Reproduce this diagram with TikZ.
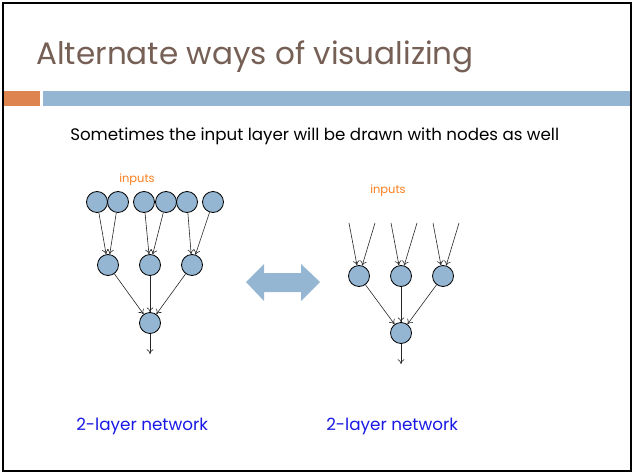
\documentclass[tikz,border=0pt]{standalone}
\usepackage{fontspec}
\setmainfont{Poppins}
\usetikzlibrary{arrows.meta}
\definecolor{titleBrown}{RGB}{118,96,86}
\definecolor{barOrange}{RGB}{222,132,78}
\definecolor{barBlue}{RGB}{148,182,210}
\definecolor{nodeBlue}{RGB}{148,182,210}
\definecolor{inputOrange}{RGB}{250,125,30}
\definecolor{labelBlue}{RGB}{25,25,230}

\begin{document}
\begin{tikzpicture}[>={To[length=3.5pt,width=5pt]}, x=0.75pt, y=-0.75pt,
    neuron/.style={circle,inner sep=0pt,minimum size=15.75pt,draw=black,line width=0.6pt,fill=nodeBlue},
    connection/.style={draw=black!85,line width=0.45pt,->},
    inputText/.style={text=inputOrange,font=\fontsize{8.6}{10}\selectfont},
    netLabel/.style={text=labelBlue,font=\fontsize{12.6}{15}\selectfont,anchor=base west,inner sep=0pt},
]

	\useasboundingbox (0,0) rectangle (634,474);
	\draw[line width=2pt] (3,3) rectangle (631,471);

	\node[anchor=base west,inner sep=0pt,text=titleBrown,font=\fontsize{23.3}{27}\selectfont](title) at(36,65){Alternate ways of visualizing};
	\fill[barOrange] (4,91) rectangle (40,106);
	\fill[barBlue] (43,91) rectangle (630,106);
	\node[anchor=base west,inner sep=0pt,font=\fontsize{12.5}{15}\selectfont](sub) at(70,141){Sometimes the input layer will be drawn with nodes as well};

	% left network
	\node[inputText](inL) at(137,180){inputs};
	\node[neuron](a1) at(97,202){};
	\node[neuron](a2) at(118,202){};
	\node[neuron](a3) at(144,202){};
	\node[neuron](a4) at(166,202){};
	\node[neuron](a5) at(187,202){};
	\node[neuron](a6) at(213,202){};
	\node[neuron](b1) at(108,265){};
	\node[neuron](b2) at(150,265){};
	\node[neuron](b3) at(192,265){};
	\node[neuron](c1) at(150,323){};
	\coordinate (outL) at(150,354);

	\draw[connection](a1)--(b1);
	\draw[connection](a2)--(b1);
	\draw[connection](a3)--(b2);
	\draw[connection](a4)--(b2);
	\draw[connection](a5)--(b3);
	\draw[connection](a6)--(b3);
	\foreach \i in {1,2,3}
		\draw[connection](b\i)--(c1);
	\draw[connection](c1)--(outL);

	% arrow between the two
	\fill[nodeBlue] (246,282)--(264,264)--(264,273)--(301,273)--(301,264)--(320,282)
		--(301,301)--(301,292)--(264,292)--(264,301)--cycle;

	% right network
	\node[inputText](inR) at(388,191){inputs};
	\coordinate (i1) at(349,223);
	\coordinate (i2) at(375,223);
	\coordinate (i3) at(391,223);
	\coordinate (i4) at(417,223);
	\coordinate (i5) at(433,223);
	\coordinate (i6) at(459,223);
	\node[neuron](d1) at(359,276){};
	\node[neuron](d2) at(401,276){};
	\node[neuron](d3) at(443,276){};
	\node[neuron](e1) at(401,333){};
	\coordinate (outR) at(401,364);

	\draw[connection](i1)--(d1);
	\draw[connection](i2)--(d1);
	\draw[connection](i3)--(d2);
	\draw[connection](i4)--(d2);
	\draw[connection](i5)--(d3);
	\draw[connection](i6)--(d3);
	\foreach \i in {1,2,3}
		\draw[connection](d\i)--(e1);
	\draw[connection](e1)--(outR);

	\node[netLabel](labL) at(76,430){2-layer network};
	\node[netLabel](labR) at(326,430){2-layer network};

\end{tikzpicture}
\end{document}
